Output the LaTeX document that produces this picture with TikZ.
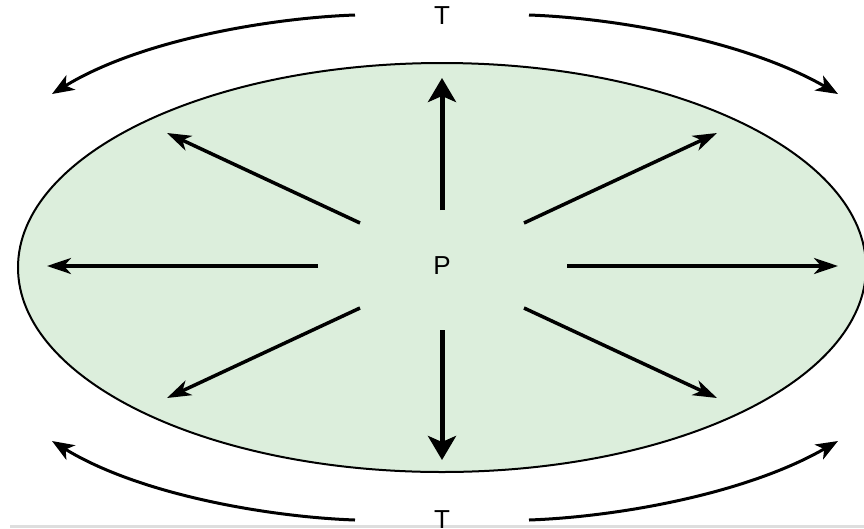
\documentclass[tikz,border=0pt]{standalone}
\usepackage{fontspec}
\setmainfont{Liberation Sans}
\usetikzlibrary{arrows.meta}
\definecolor{cellgreen}{RGB}{220,238,220}
\definecolor{bandgray}{RGB}{222,222,222}
\tikzset{
  radial/.style={line width=3.5pt,-{Stealth[length=24pt,width=16pt,inset=7pt]}},
  vertical/.style={line width=5pt,-{Stealth[length=24pt,width=28pt,inset=6pt]}},
  tensionarc/.style={line width=3pt,-{Stealth[length=22pt,width=17pt,inset=6pt]}},
  lbl/.style={inner sep=0pt}
}
\newcommand{\biglbl}{\fontsize{26}{30}\selectfont}
\begin{document}
\begin{tikzpicture}[x=1pt,y=-1pt]
\useasboundingbox (0,0) rectangle (864,528);
\clip (0,0) rectangle (864,528);
\fill[white] (0,0) rectangle (864,528);
% light gray band at the bottom
\fill[bandgray] (10,525) rectangle (864,528);
% the cell
\draw[fill=cellgreen,line width=2pt] (442,267.5) ellipse [x radius=424, y radius=204.5];
% labels
\node[lbl] (P) at (442,266) {\biglbl P};
\node[lbl] (Ttop) at (442,16) {\biglbl T};
\node[lbl] (Tbot) at (442,520) {\biglbl T};
% coordinates of radial arrows
\coordinate (upS) at (442,210);   \coordinate (upE) at (442,78);
\coordinate (dnS) at (442,330);   \coordinate (dnE) at (442,460);
\coordinate (lfS) at (318,266);   \coordinate (lfE) at (47,266);
\coordinate (rtS) at (567,266);   \coordinate (rtE) at (838,266);
\coordinate (ulS) at (360,223);   \coordinate (ulE) at (167,133);
\coordinate (urS) at (524,223);   \coordinate (urE) at (717,133);
\coordinate (llS) at (360,308);   \coordinate (llE) at (167,398);
\coordinate (lrS) at (524,308);   \coordinate (lrE) at (717,398);
\draw[vertical] (upS) -- (upE);
\draw[vertical] (dnS) -- (dnE);
\draw[radial] (lfS) -- (lfE);
\draw[radial] (rtS) -- (rtE);
\draw[radial] (ulS) -- (ulE);
\draw[radial] (urS) -- (urE);
\draw[radial] (llS) -- (llE);
\draw[radial] (lrS) -- (lrE);
% tension arcs
\coordinate (tlS) at (355,15);  \coordinate (tlE) at (52,94);
\coordinate (trS) at (529,15);  \coordinate (trE) at (838,94);
\coordinate (blS) at (355,520); \coordinate (blE) at (52,441);
\coordinate (brS) at (529,520); \coordinate (brE) at (838,441);
\draw[tensionarc] (tlS) .. controls (270,18) and (140,40) .. (tlE);
\draw[tensionarc] (trS) .. controls (614,18) and (744,40) .. (trE);
\draw[tensionarc] (blS) .. controls (270,517) and (140,495) .. (blE);
\draw[tensionarc] (brS) .. controls (614,517) and (744,495) .. (brE);
\end{tikzpicture}
\end{document}
